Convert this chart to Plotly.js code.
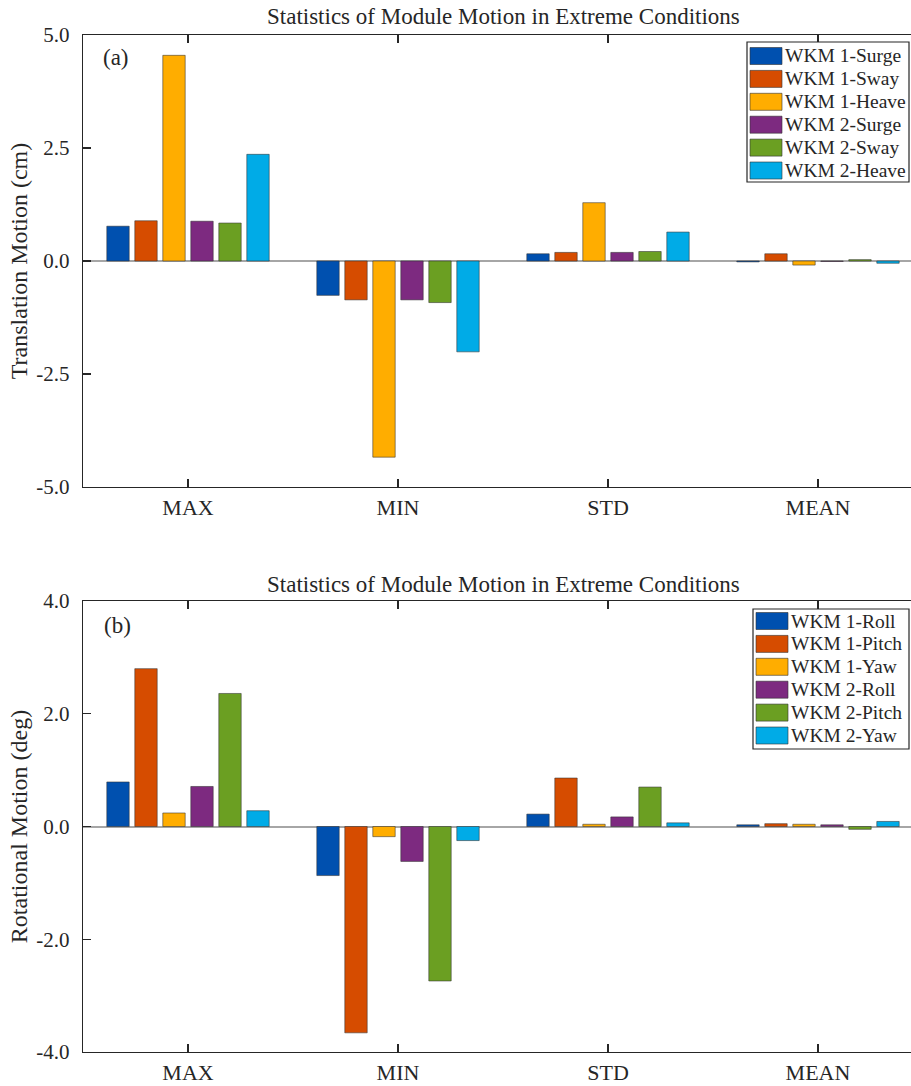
<!DOCTYPE html>
<html>
<head>
<meta charset="utf-8">
<script src="https://cdn.plot.ly/plotly-3.0.1.min.js"></script>
<style>
html,body{margin:0;padding:0;overflow:hidden;background:#fff;}
#chart{width:925px;height:1086px;}
</style>
</head>
<body>
<div id="chart"></div>
<script>
const categories = ['MAX', 'MIN', 'STD', 'MEAN'];
const catPos = [1, 2, 3, 4];

const transNames = ['WKM 1-Surge', 'WKM 1-Sway', 'WKM 1-Heave', 'WKM 2-Surge', 'WKM 2-Sway', 'WKM 2-Heave'];
const wkm1Surge = [0.77, -0.76, 0.16, -0.02];
const wkm1Sway = [0.89, -0.86, 0.19, 0.16];
const wkm1Heave = [4.55, -4.34, 1.29, -0.09];
const wkm2Surge = [0.88, -0.86, 0.19, -0.01];
const wkm2Sway = [0.84, -0.92, 0.21, 0.03];
const wkm2Heave = [2.36, -2.01, 0.64, -0.05];

const rotNames = ['WKM 1-Roll', 'WKM 1-Pitch', 'WKM 1-Yaw', 'WKM 2-Roll', 'WKM 2-Pitch', 'WKM 2-Yaw'];
const wkm1Roll = [0.79, -0.87, 0.22, 0.03];
const wkm1Pitch = [2.80, -3.66, 0.86, 0.05];
const wkm1Yaw = [0.24, -0.18, 0.04, 0.04];
const wkm2Roll = [0.71, -0.62, 0.17, 0.03];
const wkm2Pitch = [2.36, -2.74, 0.70, -0.05];
const wkm2Yaw = [0.28, -0.25, 0.065, 0.09];

const yTickVals1 = [-5, -2.5, 0, 2.5, 5];
const yTickText1 = ['-5.0', '-2.5', '0.0', '2.5', '5.0'];
const yTickVals2 = [-4, -2, 0, 2, 4];
const yTickText2 = ['-4.0', '-2.0', '0.0', '2.0', '4.0'];

const colors = ['#0050AF', '#D64C00', '#FFAD00', '#7D2A80', '#6B9F22', '#00ABE7'];
const FONT = 'Liberation Serif, Times New Roman, serif';
const TXT = '#262626';

const transSeries = [wkm1Surge, wkm1Sway, wkm1Heave, wkm2Surge, wkm2Sway, wkm2Heave];
const rotSeries = [wkm1Roll, wkm1Pitch, wkm1Yaw, wkm2Roll, wkm2Pitch, wkm2Yaw];

// layout geometry helpers (pixel -> paper)
const W = 925, H = 1086, ML = 83, MR = 2, MT = 35, MB = 34;
const PW = W - ML - MR, PH = H - MT - MB;
const px = v => (v - ML) / PW;
const py = v => (H - MB - v) / PH;

const traces = [];
transSeries.forEach((s, i) => {
  traces.push({
    type: 'bar', x: catPos, y: s, name: transNames[i],
    xaxis: 'x', yaxis: 'y', showlegend: false,
    marker: {color: colors[i], line: {color: 'rgba(50,50,50,0.55)', width: 1}}
  });
});
rotSeries.forEach((s, i) => {
  traces.push({
    type: 'bar', x: catPos, y: s, name: rotNames[i],
    xaxis: 'x2', yaxis: 'y2', showlegend: false,
    marker: {color: colors[i], line: {color: 'rgba(50,50,50,0.55)', width: 1}}
  });
});

const xCommon = {
  range: [0.5, 4.5], tickvals: catPos, ticktext: categories,
  ticks: 'inside', ticklen: 8, tickcolor: TXT, tickwidth: 1.3,
  showline: true, linecolor: TXT, linewidth: 1.3, mirror: 'ticks',
  showgrid: false, zeroline: false, fixedrange: true,
  tickfont: {family: FONT, size: 22, color: TXT}, ticklabelstandoff: 0
};
const yCommon = {
  ticks: 'inside', ticklen: 8, tickcolor: TXT, tickwidth: 1.3,
  showline: true, linecolor: TXT, linewidth: 1.3, mirror: 'ticks',
  showgrid: false, zeroline: true, zerolinecolor: '#a6a6a6', zerolinewidth: 2,
  tickfont: {family: FONT, size: 21, color: TXT}, ticklabelstandoff: 8
};

// custom legend boxes (MATLAB style)
const shapes = [];
const annotations = [
  {text: 'Statistics of Module Motion in Extreme Conditions', xref: 'paper', yref: 'paper',
   x: 0.5, y: py(17), xanchor: 'center', yanchor: 'middle', showarrow: false,
   font: {family: FONT, size: 23, color: TXT}},
  {text: 'Statistics of Module Motion in Extreme Conditions', xref: 'paper', yref: 'paper',
   x: 0.5, y: py(584), xanchor: 'center', yanchor: 'middle', showarrow: false,
   font: {family: FONT, size: 23, color: TXT}},
  {text: '(a)', xref: 'paper', yref: 'paper', x: px(116), y: py(57), xanchor: 'center', yanchor: 'middle',
   showarrow: false, font: {family: FONT, size: 23, color: TXT}},
  {text: '(b)', xref: 'paper', yref: 'paper', x: px(117), y: py(625), xanchor: 'center', yanchor: 'middle',
   showarrow: false, font: {family: FONT, size: 23, color: TXT}}
];

function addLegend(names, box, swX0, swX1, firstTop, step, swH, textX) {
  shapes.push({type: 'rect', xref: 'paper', yref: 'paper', layer: 'above',
    x0: px(box[0]), x1: px(box[1]), y0: py(box[2]), y1: py(box[3]),
    fillcolor: '#ffffff', line: {color: TXT, width: 1.2}});
  names.forEach((n, i) => {
    const top = firstTop + i * step;
    shapes.push({type: 'rect', xref: 'paper', yref: 'paper', layer: 'above',
      x0: px(swX0), x1: px(swX1), y0: py(top), y1: py(top + swH),
      fillcolor: colors[i], line: {color: 'rgba(50,50,50,0.6)', width: 1}});
    annotations.push({text: n, xref: 'paper', yref: 'paper', x: px(textX), y: py(top + swH / 2),
      xanchor: 'left', yanchor: 'middle', showarrow: false,
      font: {family: FONT, size: 19.5, color: TXT}});
  });
}
addLegend(transNames, [747, 909, 42, 182], 750, 782, 47.5, 22.9, 17, 783);
addLegend(rotNames, [753, 909, 609, 749], 756, 788, 612.5, 22.9, 17, 789);

const layout = {
  width: W, height: H,
  margin: {l: ML, r: MR, t: MT, b: MB},
  paper_bgcolor: '#fff', plot_bgcolor: '#fff',
  barmode: 'group', bargap: 0.2, bargroupgap: 0.2,
  showlegend: false,
  font: {family: FONT, color: TXT},
  xaxis: Object.assign({}, xCommon, {anchor: 'y'}),
  yaxis: Object.assign({}, yCommon, {domain: [py(487), 1], anchor: 'x', range: [-5, 5],
    tickvals: yTickVals1, ticktext: yTickText1,
    title: {text: 'Translation Motion (cm)', font: {family: FONT, size: 24, color: TXT}, standoff: 2}}),
  xaxis2: Object.assign({}, xCommon, {anchor: 'y2'}),
  yaxis2: Object.assign({}, yCommon, {domain: [0, py(601)], anchor: 'x2', range: [-4, 4],
    tickvals: yTickVals2, ticktext: yTickText2,
    title: {text: 'Rotational Motion (deg)', font: {family: FONT, size: 24, color: TXT}, standoff: 2}}),
  shapes: shapes,
  annotations: annotations
};

Plotly.newPlot('chart', traces, layout, {displayModeBar: false, staticPlot: true});
</script>
</body>
</html>
